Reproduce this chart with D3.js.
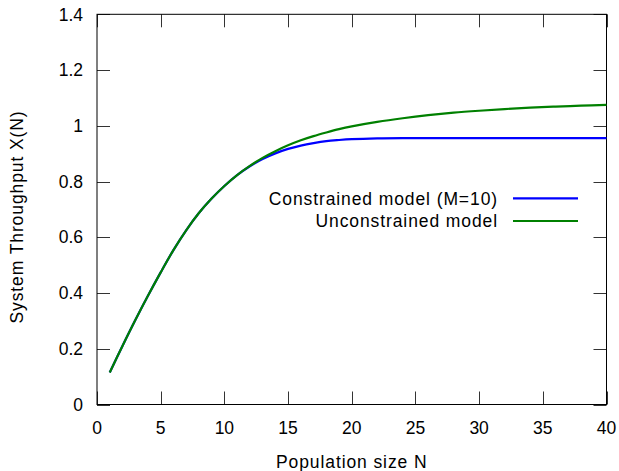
<!DOCTYPE html>
<html>
<head>
<meta charset="utf-8">
<script src="https://cdn.jsdelivr.net/npm/d3@7"></script>
<style>
html,body{margin:0;padding:0;background:#fff;}
svg text{font-family:"Liberation Sans",Arial,Helvetica,sans-serif;fill:#000;}
</style>
</head>
<body>
<svg id="chart" width="619" height="471"></svg>
<script>
// ---- data ----
const populationN = [1,2,3,4,5,6,7,8,9,10,11,12,13,14,15,16,17,18,19,20,22,24,26,28,30,32,34,36,38,40];
const unconstrained = [0.115,0.21,0.302,0.39,0.474,0.554,0.625,0.687,0.739,0.784,0.823,0.856,0.885,0.909,0.930,0.948,0.963,0.976,0.988,0.998,1.014,1.027,1.038,1.047,1.054,1.060,1.065,1.069,1.072,1.075];
const constrained   = [0.115,0.21,0.302,0.39,0.474,0.554,0.625,0.687,0.739,0.784,0.823,0.855,0.881,0.901,0.917,0.929,0.938,0.945,0.949,0.952,0.955,0.956,0.956,0.956,0.956,0.956,0.956,0.956,0.956,0.956];
const xTicks = [0,5,10,15,20,25,30,35,40];
const yTicks = [0,0.2,0.4,0.6,0.8,1,1.2,1.4];
const seriesNames = ["Constrained model (M=10)","Unconstrained model"];
const seriesColors = ["#0000ff","#008000"];
const xTitle = "Population size N";
const yTitle = "System Throughput X(N)";

// ---- layout ----
const L = 97, R = 606.5, T = 14.3, B = 404.5;
const svg = d3.select("#chart");
const x = d3.scaleLinear().domain([0,40]).range([L,R]);
const y = d3.scaleLinear().domain([0,1.4]).range([B,T]);
const fs = "17.5px";
const ls = "0.9px";
const tickLen = 13;

// ticks (mirrored, inward)
const tickColor = "#333";
const g = svg.append("g");
xTicks.forEach(v => {
  const px = Math.round(x(v)) + 0.5;
  g.append("line").attr("x1",px).attr("x2",px).attr("y1",B).attr("y2",B-tickLen).attr("stroke",tickColor);
  g.append("line").attr("x1",px).attr("x2",px).attr("y1",T).attr("y2",T+tickLen).attr("stroke",tickColor);
  g.append("text").attr("x",x(v)).attr("y",434).attr("text-anchor","middle")
    .style("font-size",fs).text(d3.format("")(v));
});
yTicks.forEach(v => {
  const py = Math.round(y(v)) + 0.5;
  g.append("line").attr("x1",L).attr("x2",L+tickLen).attr("y1",py).attr("y2",py).attr("stroke",tickColor);
  g.append("line").attr("x1",R).attr("x2",R-tickLen).attr("y1",py).attr("y2",py).attr("stroke",tickColor);
  g.append("text").attr("x",83).attr("y",y(v)+6.2).attr("text-anchor","end")
    .style("font-size",fs).text(String(v));
});

// border
svg.append("rect").attr("x",L).attr("y",T).attr("width",R-L).attr("height",B-T)
  .attr("fill","none").attr("stroke","#000").attr("stroke-width",1);

// lines
const line = d3.line().x((d,i)=>x(populationN[i])).y(d=>y(d)).curve(d3.curveCatmullRom.alpha(0.5));
[constrained, unconstrained].forEach((s,i) => {
  svg.append("path").datum(s).attr("d",line).attr("fill","none")
    .attr("stroke",seriesColors[i]).attr("stroke-width",2.2);
});

// legend
seriesNames.forEach((name,i) => {
  const ly = 198.3 + i*22.7;
  svg.append("text").attr("x",498).attr("y",ly+6.2).attr("text-anchor","end")
    .style("font-size",fs).style("letter-spacing",ls).text(name);
  svg.append("line").attr("x1",513).attr("x2",578).attr("y1",ly).attr("y2",ly)
    .attr("stroke",seriesColors[i]).attr("stroke-width",2.2);
});

// axis titles
svg.append("text").attr("x",(L+R)/2).attr("y",467.5).attr("text-anchor","middle")
  .style("font-size",fs).style("letter-spacing",ls).text(xTitle);
svg.append("text").attr("transform","translate(23,217) rotate(-90)").attr("text-anchor","middle")
  .style("font-size",fs).style("letter-spacing",ls).text(yTitle);
</script>
</body>
</html>
